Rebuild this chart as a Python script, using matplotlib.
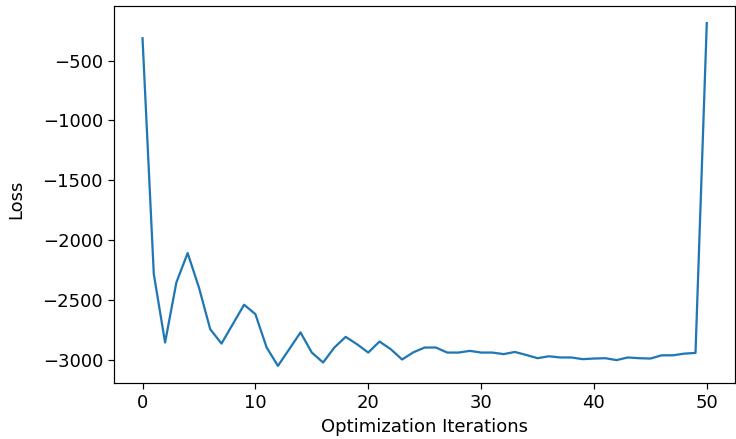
import matplotlib
matplotlib.use("Agg")
import matplotlib.pyplot as plt

iterations = list(range(51))
loss = [
    -314, -2282, -2853, -2352, -2107, -2394, -2742, -2862, -2700, -2538,
    -2616, -2895, -3048, -2909, -2769, -2937, -3020, -2895, -2806, -2867,
    -2937, -2845, -2909, -2995, -2935, -2895, -2895, -2937, -2937, -2923,
    -2937, -2937, -2950, -2932, -2957, -2984, -2968, -2978, -2978, -2992,
    -2987, -2984, -3000, -2978, -2984, -2987, -2960, -2960, -2946, -2940,
    -188,
]

plt.rcParams["font.size"] = 12

dpi = 108
fig = plt.figure(figsize=(736 / dpi, 439 / dpi), dpi=dpi)
ax = fig.add_axes([114.3 / 736, 1 - 383 / 439, (735 - 114.3) / 736, 377 / 439])
ax.plot(iterations, loss, color="#1f77b4", linewidth=1.5)
ax.set_xlabel("Optimization Iterations")
ax.set_ylabel("Loss")
ax.yaxis.set_label_coords(-0.143, 0.488)
ax.set_xticks([0, 10, 20, 30, 40, 50])
ax.set_yticks([-500, -1000, -1500, -2000, -2500, -3000])
ax.tick_params(length=4)

fig.savefig("out.png", dpi=dpi)
